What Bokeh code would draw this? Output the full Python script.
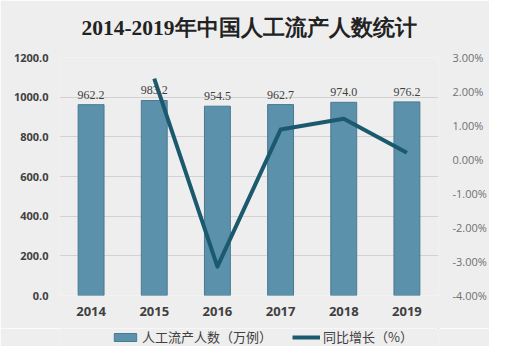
from bokeh.plotting import figure
from bokeh.layouts import column
from bokeh.models import (Range1d, LinearAxis, FixedTicker, PrintfTickFormatter,
                          Legend, LegendItem, ColumnDataSource, LabelSet, Title)
from bokeh.embed import file_html
from bokeh.resources import INLINE

years = ["2014", "2015", "2016", "2017", "2018", "2019"]
abortions = [962.2, 983.2, 954.5, 962.7, 974.0, 976.2]
growth_years = ["2015", "2016", "2017", "2018", "2019"]
growth = [2.38, -3.15, 0.88, 1.20, 0.20]
left_ticks = [0, 200, 400, 600, 800, 1000, 1200]
right_ticks = [-4, -3, -2, -1, 0, 1, 2, 3]
title_text = "2014-2019年中国人工流产人数统计"
bar_name = "人工流产人数（万例）"
line_name = "同比增长（%）"

BG = "#eeeeee"
BAR = "#5b91ab"
BAR_EDGE = "#4a7a90"
LINE = "#1b5a6e"
TXT = "#404040"

p = figure(x_range=years, y_range=Range1d(0, 1200), width=489, height=328,
           output_backend="svg", toolbar_location=None, title=None,
           min_border_left=59, min_border_right=42, min_border_top=57, min_border_bottom=33,
           background_fill_color=BG, border_fill_color=BG, outline_line_color=None)

# spacer between frame and title, then the title itself
p.add_layout(Title(text=" ", text_font_size="1px", standoff=12), "above")
p.add_layout(Title(text=title_text, align="center", text_font="Liberation Serif",
                   text_font_size="21.5px", text_font_style="bold",
                   text_color="#222222", standoff=6), "above")

p.extra_y_ranges = {"pct": Range1d(-4, 3)}

src = ColumnDataSource(dict(x=years, top=abortions, lbl=[f"{v:.1f}" for v in abortions]))
bars = p.vbar(x="x", top="top", width=0.41, source=src, fill_color=BAR,
              line_color=BAR_EDGE, line_width=1)
labels = LabelSet(x="x", y="top", text="lbl", source=src, text_align="center",
                  text_baseline="bottom", y_offset=6, text_font="Open Sans",
                  text_font_size="12px", text_color=TXT)
p.add_layout(labels)

ln = p.line(x=growth_years, y=growth, y_range_name="pct", line_color=LINE,
            line_width=4, line_join="round")

# left axis
ax = p.yaxis[0]
ax.ticker = FixedTicker(ticks=left_ticks)
ax.formatter = PrintfTickFormatter(format="%.1f")
ax.major_label_text_font = "Open Sans"
ax.major_label_text_font_style = "bold"
ax.major_label_text_font_size = "11px"
ax.major_label_text_color = TXT
ax.axis_line_color = None
ax.major_tick_line_color = None
ax.minor_tick_line_color = None
ax.major_label_standoff = 5

# right axis
rax = LinearAxis(y_range_name="pct")
rax.ticker = FixedTicker(ticks=right_ticks)
rax.formatter = PrintfTickFormatter(format="%.2f%%")
rax.major_label_text_font = "Open Sans"
rax.major_label_text_font_size = "11px"
rax.major_label_text_color = "#707070"
rax.axis_line_color = None
rax.major_tick_line_color = None
rax.minor_tick_line_color = None
rax.major_label_standoff = 8
p.add_layout(rax, "right")

# x axis
xa = p.xaxis[0]
xa.major_label_text_font = "Open Sans"
xa.major_label_text_font_style = "bold"
xa.major_label_text_font_size = "13px"
xa.major_label_text_color = TXT
xa.axis_line_color = None
xa.major_tick_line_color = None
xa.minor_tick_line_color = None
xa.major_label_standoff = 5

p.xgrid.grid_line_color = None
p.ygrid.ticker = FixedTicker(ticks=left_ticks)
p.ygrid.grid_line_color = "#d2d2d2"

# legend strip below the chart (swatch glyphs sit outside the visible range)
p2 = figure(width=489, height=18, output_backend="svg", toolbar_location=None,
            x_range=Range1d(0, 1), y_range=Range1d(0, 1),
            x_axis_type=None, y_axis_type=None,
            min_border_left=59, min_border_right=42, min_border_top=0, min_border_bottom=0,
            background_fill_color=BG, border_fill_color=BG, outline_line_color=None)
p2.xgrid.grid_line_color = None
p2.ygrid.grid_line_color = None
lg_bar = p2.vbar(x=[5], top=[6], bottom=[5], width=0.1, fill_color=BAR, line_color=BAR_EDGE)
lg_line = p2.line(x=[5, 6], y=[5, 5], line_color=LINE, line_width=4)

legend = Legend(items=[LegendItem(label=bar_name, renderers=[lg_bar]),
                       LegendItem(label=line_name, renderers=[lg_line])],
                orientation="horizontal", location=(52, 0),
                background_fill_alpha=0, border_line_color=None,
                label_text_font="Noto Sans CJK SC", label_text_font_size="13px",
                label_text_color=TXT, glyph_width=28, glyph_height=10,
                spacing=20, padding=0, margin=0, label_standoff=3)
p2.add_layout(legend, "center")

layout = column(p, p2, spacing=0)
open("out.html", "w").write(file_html(layout, INLINE))
